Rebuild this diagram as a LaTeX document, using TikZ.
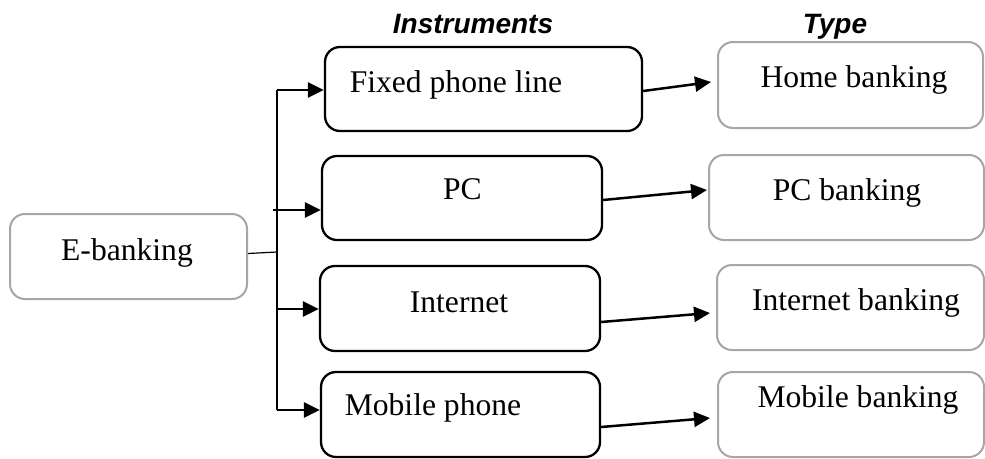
\documentclass[tikz,border=0pt]{standalone}
\usepackage{fontspec}
\setmainfont{Liberation Serif}
\newfontfamily\headfont{Liberation Sans}
\usetikzlibrary{arrows.meta}

\definecolor{boxgray}{HTML}{A6A6A6}

\tikzset{
  instbox/.style={draw=black, line width=2.3pt, rounded corners=15pt, rectangle, inner sep=0pt},
  typebox/.style={draw=boxgray, line width=2pt, rounded corners=15pt, rectangle, inner sep=0pt},
  lbl/.style={anchor=base, inner sep=0pt, font=\fontsize{31.6}{36}\selectfont},
  head/.style={anchor=base, inner sep=0pt, font=\fontsize{28}{32}\selectfont\headfont\bfseries\itshape},
  trunk/.style={line width=1.2pt},
  link/.style={line width=2.5pt, -{Triangle[length=16pt,width=15pt]}}
}

\begin{document}
\begin{tikzpicture}[x=1pt, y=-1pt]
\useasboundingbox (0,0) rectangle (985,458);

% column headings
\node[head] (hinst) at (473,33) {Instruments};
\node[head] (htype) at (835,33) {Type};

% root box
\node[typebox, minimum width=237pt, minimum height=85pt] (eb) at (128.5,256.5) {};
\node[lbl] (ebt) at (127,260) {E-banking};

% instrument boxes
\node[instbox, minimum width=317pt, minimum height=84pt] (fp) at (483.5,89) {};
\node[instbox, minimum width=280pt, minimum height=84pt] (pc) at (462,198) {};
\node[instbox, minimum width=280pt, minimum height=85pt] (in) at (460,308.5) {};
\node[instbox, minimum width=279pt, minimum height=85pt] (mp) at (460.5,414.5) {};
\node[lbl] (fpt) at (456,92) {Fixed phone line};
\node[lbl] (pct) at (462.5,199) {PC};
\node[lbl] (int) at (459,312) {Internet};
\node[lbl] (mpt) at (433,415) {Mobile phone};

% banking type boxes
\node[typebox, minimum width=265pt, minimum height=86pt] (hb) at (850.5,85) {};
\node[typebox, minimum width=275pt, minimum height=85pt] (pb) at (846.5,197.5) {};
\node[typebox, minimum width=267pt, minimum height=85pt] (ib) at (850.5,307.5) {};
\node[typebox, minimum width=266pt, minimum height=85pt] (mb) at (851,414.5) {};
\node[lbl] (hbt) at (854,87) {Home banking};
\node[lbl] (pbt) at (847,200) {PC banking};
\node[lbl] (ibt) at (856,310) {Internet banking};
\node[lbl] (mbt) at (858,407) {Mobile banking};

% branching trunk
\coordinate (jm) at (277,252);
\coordinate (j1) at (277,90);
\coordinate (j2) at (273,210);
\coordinate (j3) at (277,309);
\coordinate (j4) at (277,410);
\draw[trunk] ([yshift=3pt]eb.east) -- (jm);
\draw[trunk] (j1) -- (j4);

% trunk to instruments
\draw[link] (j1) -- ([yshift=-1pt]fp.west);
\draw[link] (j2) -- ([yshift=-12pt]pc.west);
\draw[link] (j3) -- ([yshift=-0.5pt]in.west);
\draw[link] (j4) -- ([yshift=4.5pt]mp.west);

% instruments to banking types
\draw[link] ([yshift=-2pt]fp.east) -- ([xshift=-6pt,yshift=3pt]hb.west);
\draw[link] ([yshift=-2pt]pc.east) -- ([xshift=-1pt,yshift=7.5pt]pb.west);
\draw[link] ([yshift=-13.5pt]in.east) -- ([xshift=-6pt,yshift=-5.5pt]ib.west);
\draw[link] ([yshift=-12.5pt]mp.east) -- ([xshift=-7pt,yshift=-3.5pt]mb.west);
\end{tikzpicture}
\end{document}
